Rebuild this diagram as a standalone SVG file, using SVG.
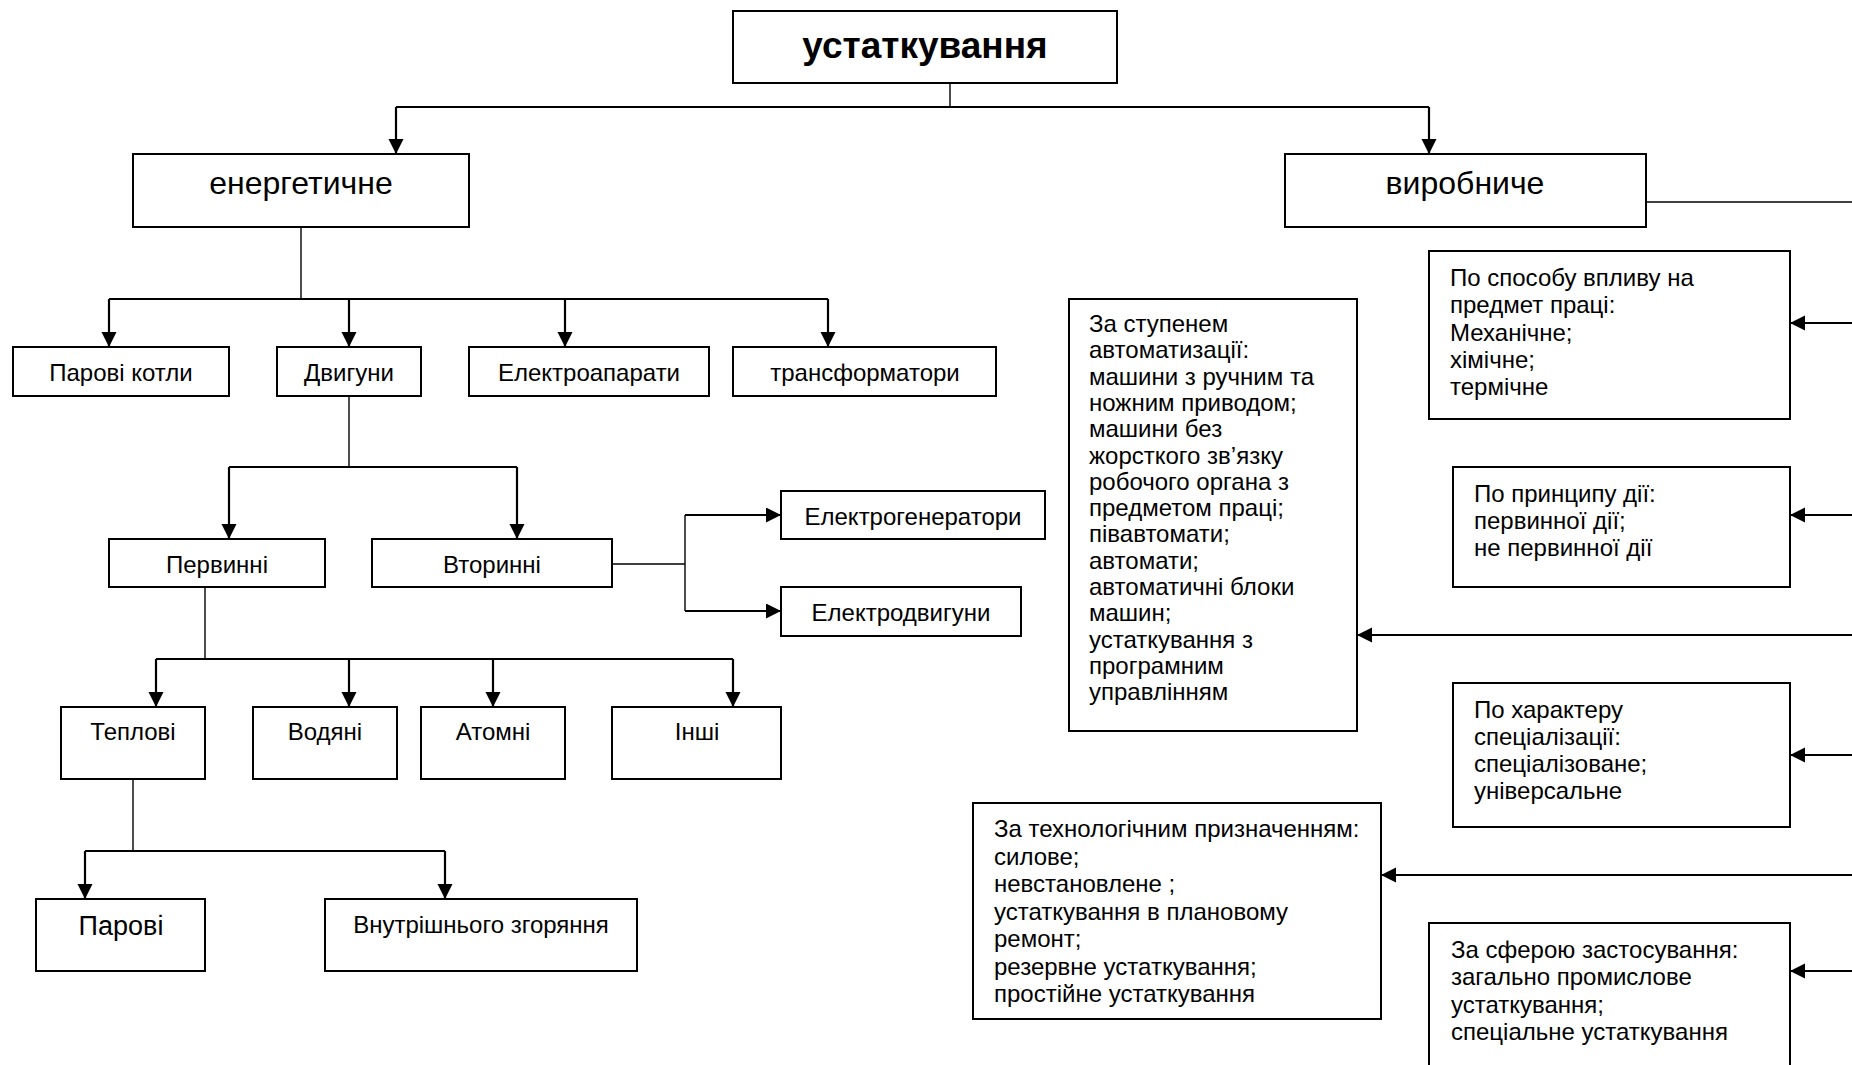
<svg xmlns="http://www.w3.org/2000/svg" width="1852" height="1065" viewBox="0 0 1852 1065">
<style>
.box{fill:#fff;stroke:#000;stroke-width:2}
.t{font-family:"Liberation Sans",Arial,sans-serif;font-size:24px;fill:#000}
.c{text-anchor:middle}
.big{font-size:32px}
.title{font-size:37px;font-weight:bold}
.ln{fill:none;stroke:#000;stroke-width:2.2}
.thin{fill:none;stroke:#000;stroke-width:1.4}
.ar{marker-end:url(#ah)}
</style>
<defs>
<marker id="ah" markerUnits="userSpaceOnUse" markerWidth="16" markerHeight="16" refX="15" refY="7.5" orient="auto">
<path d="M0 0 L15 7.5 L0 15 Z" fill="#000"/>
</marker>
</defs>
<rect width="1852" height="1065" fill="#fff"/>
<g id="connectors">
<path class="thin" d="M950 83 V107"/>
<path class="ln" d="M396 107 H1429"/>
<path class="ln ar" d="M396 107 V154"/>
<path class="ln ar" d="M1429 107 V154"/>
<path class="thin" d="M301 227 V299"/>
<path class="ln" d="M109 299 H828"/>
<path class="ln ar" d="M109 299 V347"/>
<path class="ln ar" d="M349 299 V347"/>
<path class="ln ar" d="M565 299 V347"/>
<path class="ln ar" d="M828 299 V347"/>
<path class="thin" d="M349 396 V467"/>
<path class="ln" d="M229 467 H517"/>
<path class="ln ar" d="M229 467 V539"/>
<path class="ln ar" d="M517 467 V539"/>
<path class="thin" d="M612 564 H685"/>
<path class="thin" d="M685 515 V611"/>
<path class="ln ar" d="M685 515 H781"/>
<path class="ln ar" d="M685 611 H781"/>
<path class="thin" d="M205 587 V659"/>
<path class="ln" d="M156 659 H733"/>
<path class="ln ar" d="M156 659 V707"/>
<path class="ln ar" d="M349 659 V707"/>
<path class="ln ar" d="M493 659 V707"/>
<path class="ln ar" d="M733 659 V707"/>
<path class="thin" d="M133 779 V851"/>
<path class="ln" d="M85 851 H445"/>
<path class="ln ar" d="M85 851 V899"/>
<path class="ln ar" d="M445 851 V899"/>
<path class="thin" d="M1646 202 H1852"/>
<path class="ln ar" d="M1852 323 H1790"/>
<path class="ln ar" d="M1852 515 H1790"/>
<path class="ln ar" d="M1852 635 H1357"/>
<path class="ln ar" d="M1852 755 H1790"/>
<path class="ln ar" d="M1852 875 H1381"/>
<path class="ln ar" d="M1852 971 H1790"/>
</g>
<g id="n-root"><rect class="box" x="733" y="11" width="384" height="72"/><text class="t c title" x="925" y="58">устаткування</text></g>
<g id="n-energ"><rect class="box" x="133" y="154" width="336" height="73"/><text class="t c big" x="301" y="194">енергетичне</text></g>
<g id="n-vyrob"><rect class="box" x="1285" y="154" width="361" height="73"/><text class="t c big" x="1465" y="194">виробниче</text></g>
<g id="n-kotly"><rect class="box" x="13" y="347" width="216" height="49"/><text class="t c" x="121" y="381">Парові котли</text></g>
<g id="n-dvyh"><rect class="box" x="277" y="347" width="144" height="49"/><text class="t c" x="349" y="381">Двигуни</text></g>
<g id="n-elap"><rect class="box" x="469" y="347" width="240" height="49"/><text class="t c" x="589" y="381">Електроапарати</text></g>
<g id="n-trans"><rect class="box" x="733" y="347" width="263" height="49"/><text class="t c" x="865" y="381">трансформатори</text></g>
<g id="n-perv"><rect class="box" x="109" y="539" width="216" height="48"/><text class="t c" x="217" y="573">Первинні</text></g>
<g id="n-vtor"><rect class="box" x="372" y="539" width="240" height="48"/><text class="t c" x="492" y="573">Вторинні</text></g>
<g id="n-egen"><rect class="box" x="781" y="491" width="264" height="48"/><text class="t c" x="913" y="525">Електрогенератори</text></g>
<g id="n-edv"><rect class="box" x="781" y="587" width="240" height="49"/><text class="t c" x="901" y="621">Електродвигуни</text></g>
<g id="n-tepl"><rect class="box" x="61" y="707" width="144" height="72"/><text class="t c" x="133" y="740">Теплові</text></g>
<g id="n-vod"><rect class="box" x="253" y="707" width="144" height="72"/><text class="t c" x="325" y="740">Водяні</text></g>
<g id="n-atom"><rect class="box" x="421" y="707" width="144" height="72"/><text class="t c" x="493" y="740">Атомні</text></g>
<g id="n-inshi"><rect class="box" x="612" y="707" width="169" height="72"/><text class="t c" x="697" y="740">Інші</text></g>
<g id="n-parovi"><rect class="box" x="36" y="899" width="169" height="72"/><text class="t c" x="121" y="935" style="font-size:27px">Парові</text></g>
<g id="n-vnutr"><rect class="box" x="325" y="899" width="312" height="72"/><text class="t c" x="481" y="933">Внутрішнього згоряння</text></g>
<g id="n-vplyv"><rect class="box" x="1429" y="251" width="361" height="168"/>
<text class="t" x="1450" y="286">По способу впливу на<tspan x="1450" dy="27.3">предмет праці:</tspan><tspan x="1450" dy="27.3">Механічне;</tspan><tspan x="1450" dy="27.3">хімічне;</tspan><tspan x="1450" dy="27.3">термічне</tspan></text></g>
<g id="n-avtom"><rect class="box" x="1069" y="299" width="288" height="432"/>
<text class="t" x="1089" y="332">За ступенем<tspan x="1089" dy="26.3">автоматизації:</tspan><tspan x="1089" dy="26.3">машини з ручним та</tspan><tspan x="1089" dy="26.3">ножним приводом;</tspan><tspan x="1089" dy="26.3">машини без</tspan><tspan x="1089" dy="26.3">жорсткого зв’язку</tspan><tspan x="1089" dy="26.3">робочого органа з</tspan><tspan x="1089" dy="26.3">предметом праці;</tspan><tspan x="1089" dy="26.3">півавтомати;</tspan><tspan x="1089" dy="26.3">автомати;</tspan><tspan x="1089" dy="26.3">автоматичні блоки</tspan><tspan x="1089" dy="26.3">машин;</tspan><tspan x="1089" dy="26.3">устаткування з</tspan><tspan x="1089" dy="26.3">програмним</tspan><tspan x="1089" dy="26.3">управлінням</tspan></text></g>
<g id="n-pryntsyp"><rect class="box" x="1453" y="467" width="337" height="120"/>
<text class="t" x="1474" y="502">По принципу дії:<tspan x="1474" dy="27">первинної дії;</tspan><tspan x="1474" dy="27">не первинної дії</tspan></text></g>
<g id="n-kharakter"><rect class="box" x="1453" y="683" width="337" height="144"/>
<text class="t" x="1474" y="718">По характеру<tspan x="1474" dy="27">спеціалізації:</tspan><tspan x="1474" dy="27">спеціалізоване;</tspan><tspan x="1474" dy="27">універсальне</tspan></text></g>
<g id="n-tekhn"><rect class="box" x="973" y="803" width="408" height="216"/>
<text class="t" x="994" y="837">За технологічним призначенням:<tspan x="994" dy="27.5">силове;</tspan><tspan x="994" dy="27.5">невстановлене ;</tspan><tspan x="994" dy="27.5">устаткування в плановому</tspan><tspan x="994" dy="27.5">ремонт;</tspan><tspan x="994" dy="27.5">резервне устаткування;</tspan><tspan x="994" dy="27.5">простійне устаткування</tspan></text></g>
<g id="n-sfera"><rect class="box" x="1429" y="923" width="361" height="160"/>
<text class="t" x="1451" y="958">За сферою застосування:<tspan x="1451" dy="27.3">загально промислове</tspan><tspan x="1451" dy="27.3">устаткування;</tspan><tspan x="1451" dy="27.3">спеціальне устаткування</tspan></text></g>
</svg>
